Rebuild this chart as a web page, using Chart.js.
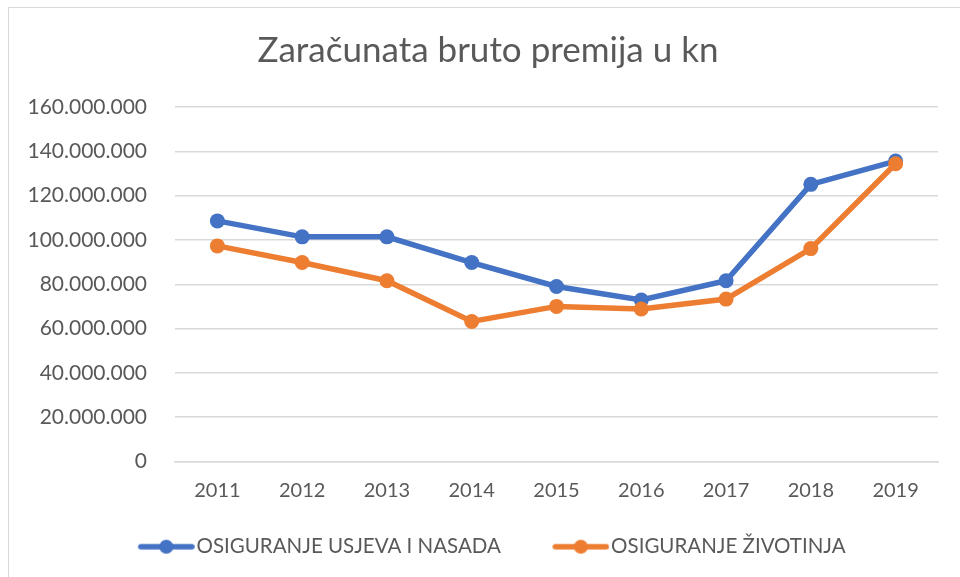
<!DOCTYPE html>
<html>
<head>
<meta charset="utf-8">
<script src="https://cdn.jsdelivr.net/npm/chart.js@4/dist/chart.umd.min.js"></script>
<style>
  html, body { margin: 0; padding: 0; background: #fff; overflow: hidden; }
  #frame { position: absolute; left: 8px; top: 7px; width: 1000px; height: 620px; border: 1px solid #d9d9d9; }
  #wrap { position: absolute; left: 0; top: 0; width: 976px; height: 594px; }
</style>
</head>
<body>
<div id="frame"></div>
<div id="wrap"><canvas id="chart"></canvas></div>
<script>
// Zaračunata bruto premija u kn, 2011-2019
const years = ['2011', '2012', '2013', '2014', '2015', '2016', '2017', '2018', '2019'];
const usjeviNasadi = [108600000, 101400000, 101400000, 89800000, 79000000, 72900000, 81600000, 125100000, 135600000];
const zivotinje = [97300000, 89800000, 81600000, 63200000, 70000000, 68800000, 73300000, 96100000, 134400000];
const seriesNames = ['OSIGURANJE USJEVA I NASADA', 'OSIGURANJE ŽIVOTINJA'];
const seriesColors = ['#4472c4', '#ed7d31'];

const fontFamily = 'Lato, "Open Sans", sans-serif';
const textColor = '#595959';
const legendFont = 20.5;
const legendBox = 56;

// line-with-dot sample for the legend (Excel style); a bit wider than the
// legend box so the line runs right up to the label text
function legendSample(color) {
  const c = document.createElement('canvas');
  c.width = Math.round(legendBox + legendFont - 4);
  c.height = 16;
  const g = c.getContext('2d');
  const x2 = c.width - 3;
  g.strokeStyle = color;
  g.lineWidth = 5.5;
  g.lineCap = 'round';
  g.beginPath(); g.moveTo(x2 - 51, 8); g.lineTo(x2, 8); g.stroke();
  g.fillStyle = color;
  g.beginPath(); g.arc(x2 - 25.5, 8, 7, 0, Math.PI * 2); g.fill();
  return c;
}

function fmt(v) {
  return Math.round(v).toString().replace(/\B(?=(\d{3})+(?!\d))/g, '.');
}

// legend padding doubles as the gap between items; pull the row up a bit
const legendLift = {
  id: 'legendLift',
  afterLayout(chart) {
    chart.legend.top -= 27;
    chart.legend.bottom -= 27;
  }
};

const ctx = document.getElementById('chart').getContext('2d');
new Chart(ctx, {
  type: 'line',
  data: {
    labels: years,
    datasets: [
      {
        label: seriesNames[0],
        data: usjeviNasadi,
        borderColor: seriesColors[0],
        backgroundColor: seriesColors[0],
        borderWidth: 5.5,
        pointRadius: 7.5,
        pointBorderWidth: 0,
        tension: 0,
        order: 1
      },
      {
        label: seriesNames[1],
        data: zivotinje,
        borderColor: seriesColors[1],
        backgroundColor: seriesColors[1],
        borderWidth: 5.5,
        pointRadius: 7.5,
        pointBorderWidth: 0,
        tension: 0,
        order: 0
      }
    ]
  },
  plugins: [legendLift],
  options: {
    responsive: true,
    maintainAspectRatio: false,
    animation: false,
    layout: { padding: { top: 14, right: 0, bottom: 0, left: 0 } },
    plugins: {
      title: {
        display: true,
        text: 'Zaračunata bruto premija u kn',
        color: textColor,
        font: { family: fontFamily, size: 35, weight: 'normal' },
        padding: { top: 16, bottom: 35 }
      },
      legend: {
        position: 'bottom',
        labels: {
          color: textColor,
          font: { family: fontFamily, size: legendFont },
          usePointStyle: true,
          pointStyleWidth: legendBox,
          padding: 44,
          sort: (a, b) => a.datasetIndex - b.datasetIndex,
          generateLabels: (chart) => {
            const items = Chart.defaults.plugins.legend.labels.generateLabels(chart);
            items.forEach(it => { it.pointStyle = legendSample(seriesColors[it.datasetIndex]); });
            return items;
          }
        }
      },
      tooltip: { enabled: false }
    },
    scales: {
      x: {
        offset: true,
        grid: { display: false, drawTicks: false },
        border: { display: true, color: '#d9d9d9', width: 1.5 },
        ticks: { color: textColor, font: { family: fontFamily, size: 20 }, padding: 17 }
      },
      y: {
        min: 0,
        max: 160000000,
        afterFit: (scale) => { scale.width = 175; },
        grid: { color: '#d9d9d9', lineWidth: 1.5, drawTicks: false },
        border: { display: false },
        ticks: {
          stepSize: 20000000,
          color: textColor,
          font: { family: fontFamily, size: 21 },
          padding: 28,
          callback: (v) => fmt(v)
        }
      },
      // empty right-hand box so title and legend centre like the original
      yRight: {
        position: 'right',
        afterFit: (scale) => { scale.width = 38; },
        grid: { display: false, drawTicks: false },
        border: { display: false },
        ticks: { display: false }
      }
    }
  }
});
</script>
</body>
</html>
